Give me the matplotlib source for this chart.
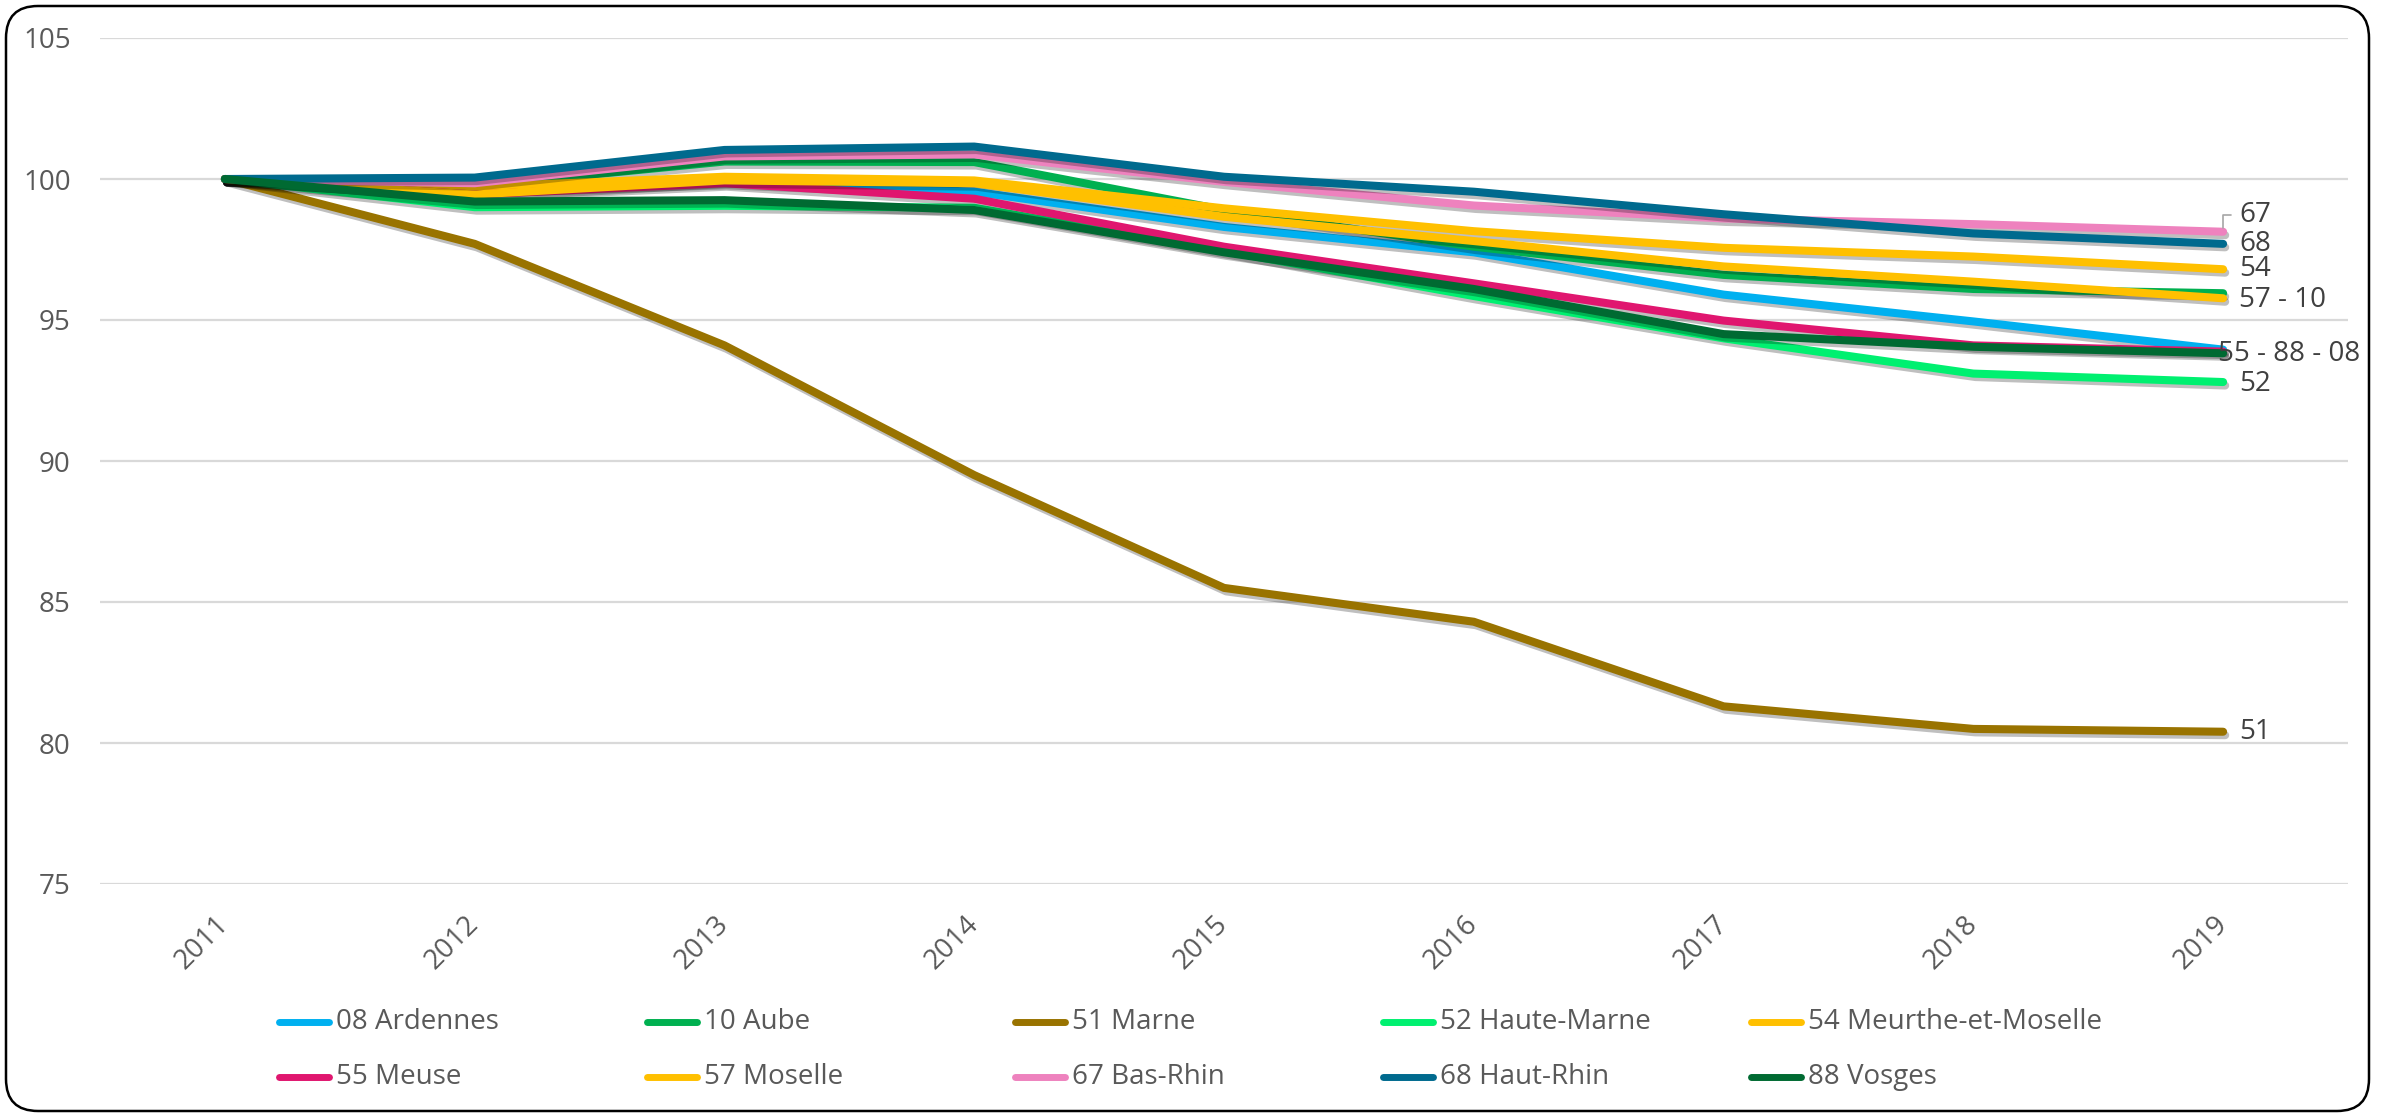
import matplotlib

matplotlib.use("Agg")
import matplotlib.pyplot as plt
from matplotlib import patheffects
from matplotlib.lines import Line2D
from matplotlib.patches import FancyBboxPatch
from matplotlib.transforms import IdentityTransform

YEARS = ["2011", "2012", "2013", "2014", "2015", "2016", "2017", "2018", "2019"]

ARDENNES = [100, 99.6, 99.9, 99.55, 98.3, 97.4, 95.9, 94.95, 93.95]
AUBE = [100, 99.75, 100.62, 100.6, 98.9, 97.6, 96.6, 96.1, 95.95]
MARNE = [100, 97.7, 94.1, 89.5, 85.5, 84.3, 81.3, 80.5, 80.4]
HAUTE_MARNE = [100, 99.0, 99.05, 98.98, 97.45, 95.85, 94.35, 93.1, 92.8]
MEURTHE = [100, 99.72, 100.08, 99.95, 98.96, 98.15, 97.56, 97.25, 96.8]
MEUSE = [100, 99.45, 99.85, 99.3, 97.6, 96.3, 94.98, 94.1, 93.88]
MOSELLE = [100, 99.45, 99.95, 99.85, 98.66, 97.8, 96.9, 96.36, 95.77]
BAS_RHIN = [100, 99.85, 100.8, 100.87, 99.9, 99.06, 98.6, 98.4, 98.13]
HAUT_RHIN = [100, 100.05, 101.03, 101.15, 100.08, 99.55, 98.75, 98.07, 97.7]
VOSGES = [100, 99.2, 99.25, 98.9, 97.4, 96.1, 94.5, 94.05, 93.82]

NAMES = ["08 Ardennes", "10 Aube", "51 Marne", "52 Haute-Marne", "54 Meurthe-et-Moselle",
         "55 Meuse", "57 Moselle", "67 Bas-Rhin", "68 Haut-Rhin", "88 Vosges"]
VALUES = [ARDENNES, AUBE, MARNE, HAUTE_MARNE, MEURTHE,
          MEUSE, MOSELLE, BAS_RHIN, HAUT_RHIN, VOSGES]
COLORS = ["#00B0F0", "#00B050", "#997300", "#00F070", "#FFC000",
          "#E0166F", "#FFC000", "#EE82BE", "#006A8E", "#006A32"]

END_LABELS = ["67", "68", "54", "57 - 10", "55 - 88 - 08", "52", "51"]
END_LABEL_SERIES = ["67 Bas-Rhin", "68 Haut-Rhin", "54 Meurthe-et-Moselle", "57 Moselle",
                    "55 Meuse", "52 Haute-Marne", "51 Marne"]
# offsets in points from the last point
END_OFFSETS = [(11.5, 12), (11.5, 0), (11.5, 0), (11.5, -1.5), (-4, -2), (11.5, -1.5), (11.5, 0)]

W, H = 2384, 1114
GRID = "#D9D9D9"
TEXT = "#595959"


def main() -> None:
    plt.rcParams.update({"font.family": ["Open Sans", "DejaVu Sans"]})
    fig = plt.figure(figsize=(W / 100, H / 100), dpi=100)
    ax = fig.add_axes([100 / W, (H - 884) / H, 2248 / W, 846 / H])

    x = list(range(len(YEARS)))
    shadow = [patheffects.SimpleLineShadow(offset=(1.5, -2.5), shadow_color="black", alpha=0.25),
              patheffects.Normal()]
    for name, vals, color in zip(NAMES, VALUES, COLORS):
        ax.plot(x, vals, color=color, lw=5.8, solid_capstyle="round",
                solid_joinstyle="round", path_effects=shadow, zorder=3)

    ax.set_xlim(-0.5, len(YEARS) - 0.5)
    ax.set_ylim(75, 105)
    ax.set_yticks([75, 80, 85, 90, 95, 100, 105])
    ax.set_xticks(x)
    ax.set_xticklabels(YEARS, rotation=45, ha="right", va="center", rotation_mode="anchor")
    ax.grid(axis="y", color=GRID, lw=1.6)
    ax.set_axisbelow(True)
    for s in ax.spines.values():
        s.set_visible(False)
    ax.tick_params(axis="y", length=0, pad=21, labelsize=20, labelcolor=TEXT)
    ax.tick_params(axis="x", length=0, pad=26, labelsize=20, labelcolor=TEXT)

    for label, series, (dx, dy) in zip(END_LABELS, END_LABEL_SERIES, END_OFFSETS):
        vals = VALUES[NAMES.index(series)]
        kw = {}
        if label == "67":
            kw["arrowprops"] = dict(arrowstyle="-", color="#A6A6A6", lw=1.2,
                                    connectionstyle="angle,angleA=0,angleB=90,rad=0",
                                    shrinkA=4, shrinkB=3)
        ax.annotate(label, xy=(x[-1], vals[-1]), xytext=(dx, dy), textcoords="offset points",
                    ha="left", va="center", fontsize=20, color="#404040", zorder=5, **kw)

    # legend laid out like Excel: 5 equal columns, 2 rows
    for i, (name, color) in enumerate(zip(NAMES, COLORS)):
        row, col = divmod(i, 5)
        x0 = 275 + 368 * col
        yc = H - (1022 if row == 0 else 1077)
        fig.add_artist(Line2D([(x0 + 4) / W, (x0 + 54) / W], [yc / H, yc / H],
                              transform=fig.transFigure, color=color, lw=5,
                              solid_capstyle="round"))
        fig.text((x0 + 61) / W, yc / H, name, ha="left", va="center",
                 fontsize=20, color=TEXT)

    border = FancyBboxPatch((6, 3), 2363, 1105, boxstyle="round,pad=0,rounding_size=32",
                            transform=IdentityTransform(), facecolor="none",
                            edgecolor="black", lw=1.8)
    fig.add_artist(border)

    fig.savefig("out.png", dpi=100)


if __name__ == "__main__":
    main()
